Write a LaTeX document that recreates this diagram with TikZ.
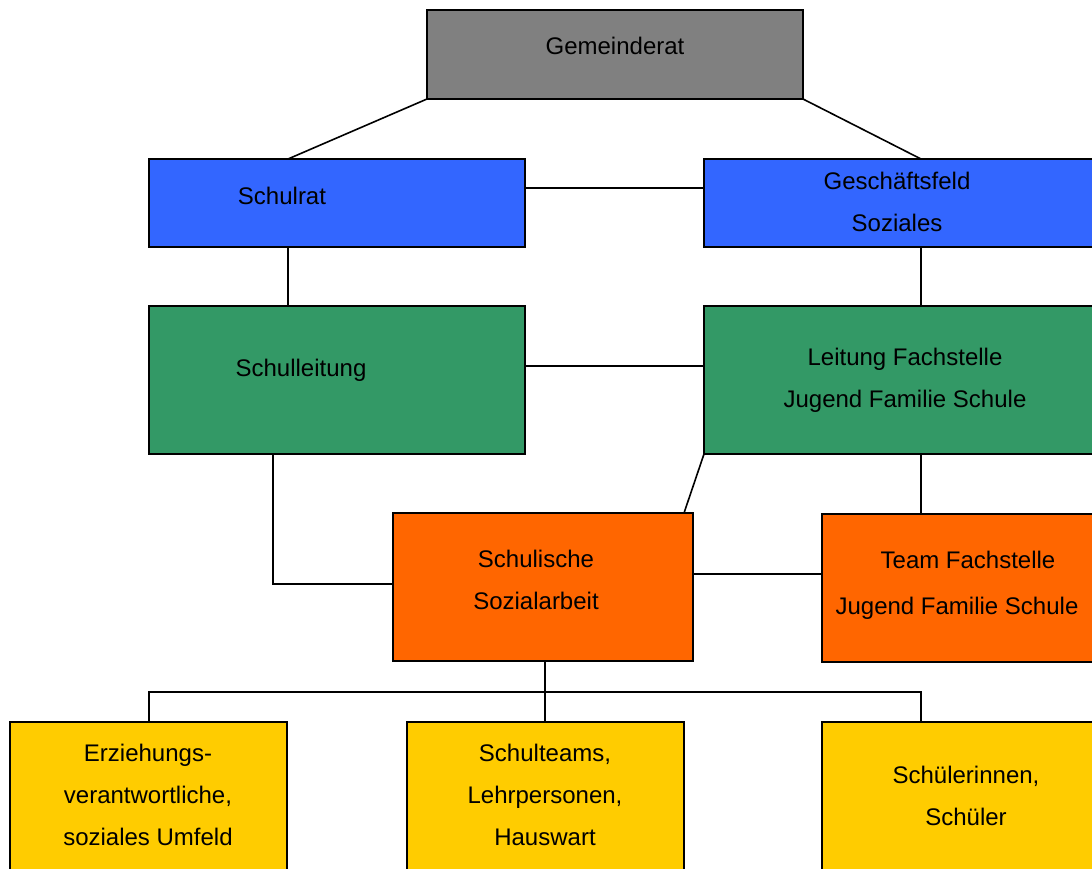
\documentclass[tikz,border=0pt]{standalone}
\usepackage{fontspec}
\setmainfont{Liberation Sans}
\usetikzlibrary{calc}
\definecolor{cgray}{HTML}{808080}
\definecolor{cblue}{HTML}{3366FF}
\definecolor{cgreen}{HTML}{339966}
\definecolor{corange}{HTML}{FF6600}
\definecolor{cyellow}{HTML}{FFCC00}
\tikzset{
  box/.style={draw=black, line width=1.5pt, rectangle, inner sep=0pt, outer sep=0pt, anchor=north west},
  lbl/.style={font=\fontsize{18pt}{31.5pt}\selectfont, align=center, inner sep=0pt},
  conn/.style={line width=1.2pt, black}
}
\begin{document}
\begin{tikzpicture}[x=0.75pt, y=-0.75pt]
\useasboundingbox (0,0) rectangle (1092,868);
\clip (0,0) rectangle (1092,868);
% boxes
\node[box, fill=cgray,   minimum width=282pt, minimum height=66.75pt] (gem) at (427,10) {};
\node[box, fill=cblue,   minimum width=282pt, minimum height=66pt] (srat) at (149,159) {};
\node[box, fill=cblue,   minimum width=297pt, minimum height=66pt] (gfs) at (704,159) {};
\node[box, fill=cgreen,  minimum width=282pt, minimum height=111pt] (sl) at (149,306) {};
\node[box, fill=cgreen,  minimum width=297pt, minimum height=111pt] (lf) at (704,306) {};
\node[box, fill=corange, minimum width=225pt, minimum height=111pt] (ssa) at (393,513) {};
\node[box, fill=corange, minimum width=208.5pt, minimum height=111pt] (tf) at (822,514) {};
\node[box, fill=cyellow, minimum width=207.75pt, minimum height=118pt] (erz) at (10,722) {};
\node[box, fill=cyellow, minimum width=207.75pt, minimum height=118pt] (stm) at (407,722) {};
\node[box, fill=cyellow, minimum width=208.5pt, minimum height=118pt] (sch) at (822,722) {};
% texts
\node[lbl] (tgem) at (615,46) {Gemeinderat};
\node[lbl] (tsrat) at (282,196) {Schulrat};
\node[lbl] (tgfs) at (897,202) {Geschäftsfeld\\Soziales};
\node[lbl] (tsl) at (301,370) {Schulleitung};
\node[lbl] (tlf) at (905,380) {Leitung Fachstelle\\Jugend Familie Schule};
\node[lbl] (tssa) at (536,580) {Schulische\\Sozialarbeit};
\node[lbl, anchor=center] (ttf1) at (968,560) {Team Fachstelle};
\node[lbl, anchor=center] (ttf2) at (957,608) {Jugend Familie Schule};
\node[lbl] (terz) at (148,795) {Erziehungs-\\verantwortliche,\\soziales Umfeld};
\node[lbl] (tstm) at (545,795) {Schulteams,\\Lehrpersonen,\\Hauswart};
\node[lbl] (tsch) at (966,796) {Schülerinnen,\\Schüler};
% connectors
\coordinate (c1) at (288,159);
\coordinate (c2) at (921,159);
\draw[conn] (gem.south west) -- (c1);
\draw[conn] (gem.south east) -- (c2);
\draw[conn] (srat.east |- 0,188) -- (gfs.west |- 0,188);
\draw[conn] (srat.south -| 288,0) -- (sl.north -| 288,0);
\draw[conn] (gfs.south -| 921,0) -- (lf.north -| 921,0);
\draw[conn] (sl.east |- 0,366) -- (lf.west |- 0,366);
\draw[conn] (sl.south -| 273,0) -- (273,584) -- (ssa.west |- 0,584);
\draw[conn] (lf.south west) -- (ssa.north -| 684,0);
\draw[conn] (lf.south -| 921,0) -- (tf.north -| 921,0);
\draw[conn] (ssa.east |- 0,574) -- (tf.west |- 0,574);
\coordinate (bus) at (545,692);
\draw[conn] (ssa.south -| bus) -- (bus);
\draw[conn] (erz.north -| 149,0) -- (149,692) -- (921,692) -- (sch.north -| 921,0);
\draw[conn] (bus) -- (stm.north -| bus);
\end{tikzpicture}
\end{document}
